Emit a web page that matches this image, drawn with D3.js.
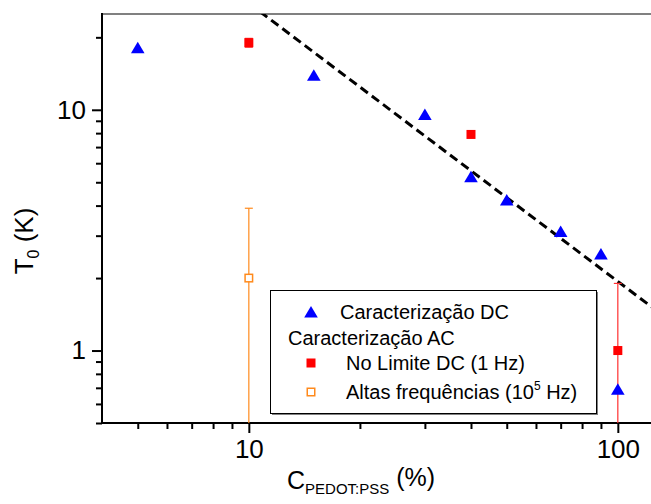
<!DOCTYPE html>
<html>
<head>
<meta charset="utf-8">
<script src="https://cdn.jsdelivr.net/npm/d3@7"></script>
<style>
  html, body { margin: 0; padding: 0; background: #fff; }
  svg { display: block; font-family: "Liberation Sans", Arial, sans-serif; }
</style>
</head>
<body>
<svg id="chart" width="651" height="504"></svg>
<script>
// DC characterisation (blue triangles)
const dcConc = [5, 15, 30, 40, 50, 70, 90, 100];
const dcT0 = [18.1, 13.9, 9.55, 5.27, 4.22, 3.12, 2.52, 0.69];

// AC characterisation, DC limit (1 Hz) — filled red squares
const acLowConc = [10, 40, 100];
const acLowT0 = [19, 7.9, 1.0];
const acLowErr = [0.8, 0, 0.9];

// AC characterisation, high frequency (10^5 Hz) — open orange squares
const acHighConc = [10];
const acHighT0 = [2.0];
const acHighErr = [1.9];

// Power-law fit, given by two end points (dashed)
const fitConc = [10, 130];
const fitT0 = [27.7, 1.43];

const xTickLabels = [10, 100];
const yTickLabels = [1, 10];

const svg = d3.select("#chart");
const L = 102, R = 651, T = 14, B = 423;

const x = d3.scaleLog().domain([4, 123]).range([L, R]);
const y = d3.scaleLog().domain([0.5, 25]).range([B, T]);

const BLUE = "#0000ff", RED = "#ff0000", ORANGE = "#ff8a1c";

// clip region for the data
svg.append("defs").append("clipPath").attr("id", "plotClip")
  .append("rect").attr("x", L).attr("y", T).attr("width", R - L).attr("height", B - T);

// top frame line (grey)
svg.append("line").attr("x1", L).attr("x2", R).attr("y1", T).attr("y2", T)
  .attr("stroke", "#808080").attr("stroke-width", 2);

// axes
const xMinor = [5, 6, 7, 8, 9, 20, 30, 40, 50, 60, 70, 80, 90];
const yMinor = [0.5, 0.6, 0.7, 0.8, 0.9, 2, 3, 4, 5, 6, 7, 8, 9, 20];

function styleAxis(g) {
  g.select(".domain").remove();
  g.selectAll(".tick line").attr("stroke", "#000").attr("stroke-width", 2);
  g.selectAll(".tick text").attr("fill", "#000").attr("font-size", 26)
    .attr("font-family", "'Liberation Sans', Arial, sans-serif");
}

svg.append("g").attr("transform", `translate(0,${B})`)
  .call(d3.axisBottom(x).tickValues(xMinor).tickSize(6).tickFormat(""))
  .call(styleAxis);
svg.append("g").attr("transform", `translate(0,${B})`)
  .call(d3.axisBottom(x).tickValues(xTickLabels).tickSize(10).tickPadding(7).tickFormat(d3.format("d")))
  .call(styleAxis);
svg.append("g").attr("transform", `translate(${L},0)`)
  .call(d3.axisLeft(y).tickValues(yMinor).tickSize(6).tickFormat(""))
  .call(styleAxis);
svg.append("g").attr("transform", `translate(${L},0)`)
  .call(d3.axisLeft(y).tickValues(yTickLabels).tickSize(10).tickPadding(6).tickFormat(d3.format("d")))
  .call(styleAxis);

// axis lines
svg.append("line").attr("x1", L).attr("x2", R).attr("y1", B).attr("y2", B)
  .attr("stroke", "#000").attr("stroke-width", 2);
svg.append("line").attr("x1", L).attr("x2", L).attr("y1", T - 1).attr("y2", B + 1)
  .attr("stroke", "#000").attr("stroke-width", 2);

const plot = svg.append("g").attr("clip-path", "url(#plotClip)");

// fit line
plot.append("path")
  .datum(fitConc.map((c, i) => [c, fitT0[i]]))
  .attr("d", d3.line().x(d => x(d[0])).y(d => y(d[1])))
  .attr("fill", "none").attr("stroke", "#000").attr("stroke-width", 3)
  .attr("stroke-dasharray", "9,5");

// error bars
function errorBars(conc, vals, errs, color) {
  const data = conc.map((c, i) => ({ c, v: vals[i], e: errs[i] })).filter(d => d.e > 0);
  const g = plot.append("g").attr("stroke", color).attr("stroke-width", 1.2);
  data.forEach(d => {
    const lo = Math.max(d.v - d.e, 0.01);
    const hi = d.v + d.e;
    g.append("line").attr("x1", x(d.c)).attr("x2", x(d.c)).attr("y1", y(lo)).attr("y2", y(hi));
    g.append("line").attr("x1", x(d.c) - 4).attr("x2", x(d.c) + 4).attr("y1", y(hi)).attr("y2", y(hi));
    g.append("line").attr("x1", x(d.c) - 4).attr("x2", x(d.c) + 4).attr("y1", y(lo)).attr("y2", y(lo));
  });
}
errorBars(acLowConc, acLowT0, acLowErr, "#ff3030");
errorBars(acHighConc, acHighT0, acHighErr, ORANGE);

// marker shapes
const triPath = (cx, cy) => `M${cx},${cy - 6}L${cx + 6.8},${cy + 5.5}L${cx - 6.8},${cy + 5.5}Z`;

plot.append("g").selectAll("path").data(dcConc.map((c, i) => [c, dcT0[i]]))
  .join("path").attr("d", d => triPath(x(d[0]), y(d[1]))).attr("fill", BLUE);

plot.append("g").selectAll("rect").data(acLowConc.map((c, i) => [c, acLowT0[i]]))
  .join("rect")
  .attr("x", d => x(d[0]) - 4.5).attr("y", d => y(d[1]) - 4.5)
  .attr("width", 9).attr("height", 9).attr("fill", RED);

plot.append("g").selectAll("rect").data(acHighConc.map((c, i) => [c, acHighT0[i]]))
  .join("rect")
  .attr("x", d => x(d[0]) - 3.75).attr("y", d => y(d[1]) - 3.75)
  .attr("width", 7.5).attr("height", 7.5).attr("fill", "#fff")
  .attr("stroke", ORANGE).attr("stroke-width", 1.5);

// legend
const lg = svg.append("g");
lg.append("rect").attr("x", 272).attr("y", 292).attr("width", 326).attr("height", 123)
  .attr("fill", "#808080");
lg.append("rect").attr("x", 270.5).attr("y", 290.5).attr("width", 326).attr("height", 123)
  .attr("fill", "#fff").attr("stroke", "#000").attr("stroke-width", 1);

lg.append("path").attr("d", triPath(311, 312)).attr("fill", BLUE);
lg.append("rect").attr("x", 306.5).attr("y", 358.5).attr("width", 9).attr("height", 9).attr("fill", RED);
lg.append("rect").attr("x", 307.25).attr("y", 388.25).attr("width", 7.5).attr("height", 7.5)
  .attr("fill", "#fff").attr("stroke", ORANGE).attr("stroke-width", 1.5);

const lgFont = 20;
lg.append("text").attr("x", 340).attr("y", 319).attr("font-size", lgFont).text("Caracterização DC");
lg.append("text").attr("x", 288).attr("y", 345).attr("font-size", lgFont).text("Caracterização AC");
lg.append("text").attr("x", 346).attr("y", 370).attr("font-size", lgFont).text("No Limite DC (1 Hz)");
const hf = lg.append("text").attr("x", 346).attr("y", 399).attr("font-size", lgFont);
hf.append("tspan").text("Altas frequências (10");
hf.append("tspan").attr("font-size", 12).attr("dy", -9).text("5");
hf.append("tspan").attr("dy", 9).text(" Hz)");

// axis titles
const yt = svg.append("text")
  .attr("transform", "translate(33,241) rotate(-90)")
  .attr("text-anchor", "middle").attr("font-size", 26);
yt.append("tspan").text("T");
yt.append("tspan").attr("font-size", 16).attr("dy", 6).text("0");
yt.append("tspan").attr("dy", -6).text(" (K)");

const xt = svg.append("text").attr("x", 287).attr("y", 489).attr("font-size", 25);
xt.append("tspan").text("C");
xt.append("tspan").attr("font-size", 15).attr("dy", 5).text("PEDOT:PSS");
xt.append("tspan").attr("dy", -8).text(" (%)");
</script>
</body>
</html>
